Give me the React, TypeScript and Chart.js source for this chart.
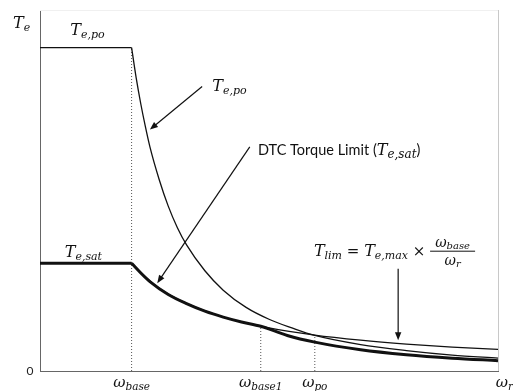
import React, { useEffect, useRef } from "react";
import { Chart, registerables } from "chart.js";

Chart.register(...registerables);

// ---- data (speed in units of ω_base, torque in units of T_e,sat) ----
const flatSpeed = [0, 1];
const tePoFlat = [3, 3];
const teSatFlat = [1, 1];

const tePoSpeed = [1, 1.05, 1.1, 1.15, 1.2, 1.3, 1.4, 1.5, 1.6, 1.8, 2, 2.25, 2.5, 2.75, 3, 3.5, 4, 4.5, 5];
const tePoTorque = [3, 2.72, 2.48, 2.27, 2.08, 1.78, 1.53, 1.33, 1.17, 0.93, 0.75, 0.59, 0.48, 0.4, 0.33, 0.245, 0.19, 0.148, 0.12];

const teSatSpeed = [1, 1.1, 1.2, 1.4, 1.6, 1.8, 2, 2.2, 2.41, 2.7, 3, 3.5, 4, 4.5, 5];
const teSatTorque = [1, 0.91, 0.83, 0.71, 0.625, 0.555, 0.5, 0.455, 0.415, 0.33, 0.268, 0.197, 0.151, 0.119, 0.096];

const tLimSpeed = [1, 1.25, 1.5, 2, 2.5, 3, 3.5, 4, 4.5, 5];
const tLimTorque = [1, 0.8, 0.667, 0.5, 0.4, 0.333, 0.286, 0.25, 0.222, 0.2];

const markerSpeed = [1, 2.41, 3.0];
const markerTop = [3, 0.415, 0.333];

const xLabelAt = [1, 2.41, 3.0, 5.07];
const xLabelMain = ["ω", "ω", "ω", "ω"];
const xLabelSub = ["base", "base1", "po", "r"];

const X_MAX = 5;
const Y_MAX = 3.35;

const MATH = '"DejaVu Serif", "Liberation Serif", serif';
const SANS = 'Lato, "Open Sans", sans-serif';

type Part = { t: string; size: number; italic?: boolean; dy?: number; font?: string };

function partFont(p: Part) {
  return `${p.italic ? "italic " : ""}${p.size}px ${p.font || MATH}`;
}
function richWidth(ctx: CanvasRenderingContext2D, parts: Part[]) {
  let w = 0;
  for (const p of parts) {
    ctx.font = partFont(p);
    w += ctx.measureText(p.t).width;
  }
  return w;
}
function drawRich(ctx: CanvasRenderingContext2D, x: number, y: number, parts: Part[], align: "left" | "center" = "left") {
  let cx = align === "center" ? x - richWidth(ctx, parts) / 2 : x;
  ctx.textAlign = "left";
  ctx.textBaseline = "alphabetic";
  for (const p of parts) {
    ctx.font = partFont(p);
    ctx.fillText(p.t, cx, y + (p.dy || 0));
    cx += ctx.measureText(p.t).width;
  }
  return cx;
}
function arrow(ctx: CanvasRenderingContext2D, x1: number, y1: number, x2: number, y2: number) {
  const a = Math.atan2(y2 - y1, x2 - x1);
  const L = 8, W = 3.2;
  ctx.beginPath();
  ctx.moveTo(x1, y1);
  ctx.lineTo(x2 - Math.cos(a) * L * 0.8, y2 - Math.sin(a) * L * 0.8);
  ctx.lineWidth = 1.2;
  ctx.strokeStyle = "#111";
  ctx.stroke();
  ctx.beginPath();
  ctx.moveTo(x2, y2);
  ctx.lineTo(x2 - Math.cos(a) * L + Math.sin(a) * W, y2 - Math.sin(a) * L - Math.cos(a) * W);
  ctx.lineTo(x2 - Math.cos(a) * L - Math.sin(a) * W, y2 - Math.sin(a) * L + Math.cos(a) * W);
  ctx.closePath();
  ctx.fillStyle = "#111";
  ctx.fill();
}

const pts = (xs: number[], ys: number[]) => xs.map((x, i) => ({ x, y: ys[i] }));

const annotPlugin = {
  id: "annot",
  afterDraw(chart: any) {
    const { ctx, chartArea: ca, scales } = chart;
    const X = (v: number) => scales.x.getPixelForValue(v);
    const Y = (v: number) => scales.y.getPixelForValue(v);
    ctx.save();
    // frame (top faint, right light gray)
    ctx.strokeStyle = "#f0f0f0";
    ctx.lineWidth = 1;
    ctx.beginPath();
    ctx.moveTo(ca.left, ca.top + 0.5);
    ctx.lineTo(ca.right, ca.top + 0.5);
    ctx.stroke();
    ctx.strokeStyle = "#c8c8c8";
    ctx.beginPath();
    ctx.moveTo(ca.right + 0.5, ca.top);
    ctx.lineTo(ca.right + 0.5, ca.bottom);
    ctx.stroke();

    ctx.fillStyle = "#111";
    // y axis title
    drawRich(ctx, ca.left - 27, ca.top + 18, [
      { t: "T", size: 16, italic: true },
      { t: "e", size: 11, italic: true, dy: 3 },
    ]);
    // zero
    ctx.font = `12px ${SANS}`;
    ctx.textAlign = "center";
    ctx.textBaseline = "middle";
    ctx.fillStyle = "#222";
    ctx.fillText("0", ca.left - 10, ca.bottom);
    ctx.fillStyle = "#111";
    // x labels
    xLabelAt.forEach((v, i) => {
      drawRich(ctx, X(v), ca.bottom + 16, [
        { t: xLabelMain[i], size: 15, italic: true },
        { t: xLabelSub[i], size: 10.5, italic: true, dy: 3 },
      ], "center");
    });
    // T_e,po on flat
    drawRich(ctx, X(0.33), Y(3.12), [
      { t: "T", size: 16, italic: true },
      { t: "e,po", size: 11, italic: true, dy: 3 },
    ]);
    // T_e,sat on flat
    drawRich(ctx, X(0.27), Y(1.06), [
      { t: "T", size: 16, italic: true },
      { t: "e,sat", size: 11, italic: true, dy: 3 },
    ]);
    // arrow label T_e,po
    drawRich(ctx, X(1.88), Y(2.6), [
      { t: "T", size: 16, italic: true },
      { t: "e,po", size: 11, italic: true, dy: 3 },
    ]);
    arrow(ctx, X(1.77), Y(2.64), X(1.2), Y(2.24));
    // DTC label
    drawRich(ctx, X(2.38), Y(2.0), [
      { t: "DTC Torque Limit (", size: 14.5, font: SANS },
      { t: "T", size: 16, italic: true },
      { t: "e,sat", size: 12, italic: true, dy: 3 },
      { t: ")", size: 14.5, font: SANS },
    ]);
    arrow(ctx, X(2.29), Y(2.08), X(1.28), Y(0.815));
    // formula
    const fx = X(2.99);
    const fy = Y(1.07);
    const after = drawRich(ctx, fx, fy, [
      { t: "T", size: 16, italic: true },
      { t: "lim", size: 11, italic: true, dy: 3 },
      { t: " = ", size: 15 },
      { t: "T", size: 16, italic: true },
      { t: "e,max", size: 11, italic: true, dy: 3 },
      { t: " × ", size: 15 },
    ]);
    const barW = 45;
    ctx.strokeStyle = "#111";
    ctx.lineWidth = 1;
    ctx.beginPath();
    ctx.moveTo(after, fy - 4.5);
    ctx.lineTo(after + barW, fy - 4.5);
    ctx.stroke();
    drawRich(ctx, after + barW / 2, fy - 9, [
      { t: "ω", size: 14, italic: true },
      { t: "base", size: 10, italic: true, dy: 2 },
    ], "center");
    drawRich(ctx, after + barW / 2, fy + 9, [
      { t: "ω", size: 14, italic: true },
      { t: "r", size: 10, italic: true, dy: 2 },
    ], "center");
    arrow(ctx, X(3.91), Y(0.95), X(3.91), Y(0.285));
    ctx.restore();
  },
};

export default function App() {
  const ref = useRef<HTMLCanvasElement>(null);
  useEffect(() => {
    document.body.style.margin = "0";
    const thin = { borderColor: "#111", borderWidth: 1.3, pointRadius: 0, cubicInterpolationMode: "monotone" as const, fill: false };
    const thick = { ...thin, borderWidth: 3 };
    const dotted = { borderColor: "#555", borderWidth: 1, borderDash: [1, 2], pointRadius: 0, fill: false };
    const chart = new Chart(ref.current!, {
      type: "line",
      data: {
        datasets: [
          { ...thick, data: pts(flatSpeed, teSatFlat) },
          { ...thick, data: pts(teSatSpeed, teSatTorque) },
          { ...thin, data: pts(flatSpeed, tePoFlat) },
          { ...thin, data: pts(tePoSpeed, tePoTorque) },
          { ...thin, data: pts(tLimSpeed, tLimTorque) },
          ...markerSpeed.map((s, i) => ({ ...dotted, data: [{ x: s, y: 0 }, { x: s, y: markerTop[i] }] })),
        ] as any,
      },
      options: {
        animation: false,
        responsive: false,
        layout: { padding: { left: 40, top: 10, right: 15, bottom: 20 } },
        plugins: { legend: { display: false }, tooltip: { enabled: false } },
        scales: {
          x: {
            type: "linear",
            min: 0,
            max: X_MAX,
            grid: { display: false, drawTicks: false },
            ticks: { display: false },
            border: { color: "#666", width: 1 },
            afterFit: (s: any) => { s.height = 0; },
          },
          y: {
            type: "linear",
            min: 0,
            max: Y_MAX,
            grid: { display: false, drawTicks: false },
            ticks: { display: false },
            border: { color: "#666", width: 1 },
            afterFit: (s: any) => { s.width = 0; },
          },
        },
      },
      plugins: [annotPlugin],
    });
    return () => chart.destroy();
  }, []);
  return <canvas ref={ref} width={513} height={391} style={{ display: "block" }} />;
}
